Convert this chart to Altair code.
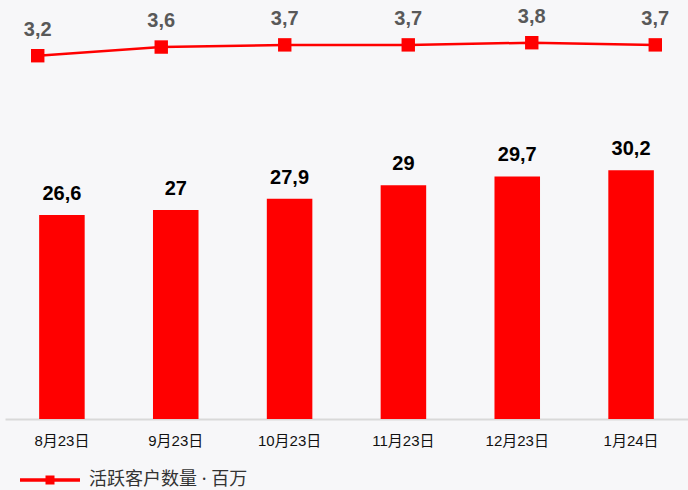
import altair as alt
import pandas as pd

months = ["8月23日", "9月23日", "10月23日", "11月23日", "12月23日", "1月24日"]
clients = [26.6, 27, 27.9, 29, 29.7, 30.2]
client_labels = ["26,6", "27", "27,9", "29", "29,7", "30,2"]
active = [3.2, 3.6, 3.7, 3.7, 3.8, 3.7]
active_labels = ["3,2", "3,6", "3,7", "3,7", "3,8", "3,7"]
series_name = "活跃客户数量 · 百万"

df = pd.DataFrame({
    "month": months,
    "clients": clients,
    "clients_label": client_labels,
    "active": active,
    "active_label": active_labels,
    "series": [series_name] * len(months),
})

RED = "#ff0000"
FONT = "Liberation Sans, Noto Sans CJK SC, sans-serif"
W, H = 683, 409

bar_x = alt.X(
    "month:N", sort=months,
    scale=alt.Scale(paddingInner=0.6, paddingOuter=0.3),
    axis=alt.Axis(title=None, labelAngle=0, ticks=False, domainColor="#d9d9d9",
                  domainWidth=2, labelPadding=14, labelFontSize=15, labelFont=FONT,
                  labelColor="#111111", grid=False),
)
bar_y = alt.Y("clients:Q", scale=alt.Scale(domain=[10.17, 43.1], zero=False, nice=False), axis=None)

bars = alt.Chart(df).mark_bar(color=RED, clip=True).encode(x=bar_x, y=bar_y)
bar_text = alt.Chart(df).mark_text(
    dy=-15, baseline="alphabetic", fontSize=20, fontWeight="bold", font=FONT, color="#000000"
).encode(x=bar_x, y=bar_y, text="clients_label:N")

line_x = alt.X("month:N", sort=months, scale=alt.Scale(type="point", padding=0.265), axis=None)
line_y = alt.Y("active:Q", scale=alt.Scale(domain=[-13.57, 5.31], zero=False, nice=False), axis=None)

legend_path = ("M-1,-0.058H1V0.058H-1Z "
               "M-0.15,-0.15H0.15V0.15H-0.15Z")

line = alt.Chart(df).mark_line(color=RED, strokeWidth=2.5).encode(x=line_x, y=line_y)
points = alt.Chart(df).mark_point(shape="square", size=180, filled=True, opacity=1).encode(
    x=line_x, y=line_y,
    color=alt.Color("series:N", scale=alt.Scale(range=[RED]),
                    legend=alt.Legend(title=None, orient="none", legendX=15, legendY=440,
                                      symbolType=legend_path, symbolSize=3600,
                                      symbolFillColor=RED, symbolOpacity=1,
                                      symbolStrokeWidth=0, labelFontSize=18,
                                      labelFont="Noto Sans, Noto Sans CJK SC",
                                      labelColor="#333333", labelLimit=0,
                                      labelOffset=9, padding=0)),
)
line_text = alt.Chart(df).mark_text(
    dy=-20, baseline="alphabetic", fontSize=20, fontWeight="bold", font=FONT, color="#595959"
).encode(x=line_x, y=line_y, text="active_label:N")

chart = alt.layer(
    alt.layer(bars, bar_text),
    alt.layer(line, points, line_text),
).resolve_scale(x="independent", y="independent").properties(
    width=W, height=H,
    autosize=alt.AutoSizeParams(type="none"),
    padding={"left": 5, "top": 10, "right": 0, "bottom": 71},
    background="#f7f7f9",
).configure_view(stroke=None)

chart.save("out.html", embed_options={"renderer": "svg", "actions": False})
